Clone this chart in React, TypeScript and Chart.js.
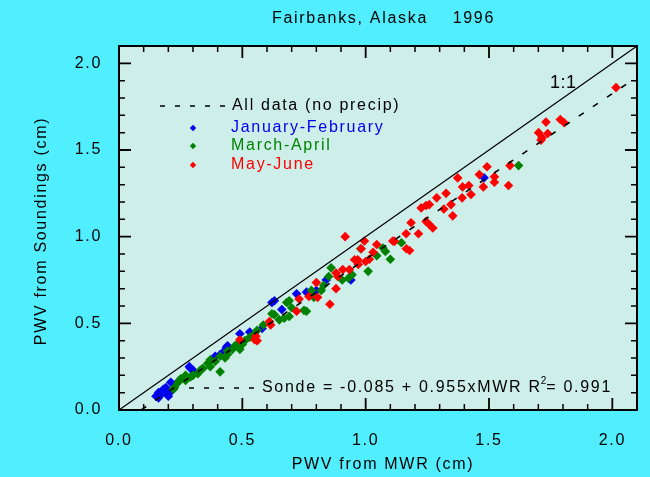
import React, { useEffect, useRef } from 'react';
import { Chart, registerables } from 'chart.js';

Chart.register(...registerables);

// ---- data ----
const janFebX = [0.16, 0.17, 0.185, 0.20, 0.16, 0.18, 0.22, 0.21, 0.19, 0.23, 0.175, 0.29, 0.30, 0.285, 0.39, 0.42, 0.41, 0.435, 0.44, 0.49, 0.53, 0.58, 0.63, 0.62, 0.66, 0.72, 0.76, 0.80, 0.84, 0.94, 1.48, 0.15, 0.205];
const janFebY = [0.10, 0.09, 0.105, 0.08, 0.07, 0.12, 0.12, 0.16, 0.13, 0.15, 0.11, 0.24, 0.23, 0.25, 0.31, 0.33, 0.32, 0.36, 0.37, 0.44, 0.45, 0.47, 0.63, 0.62, 0.58, 0.67, 0.68, 0.69, 0.75, 0.75, 1.34, 0.08, 0.10];

const marchAprilX = [0.22, 0.225, 0.25, 0.27, 0.27, 0.30, 0.32, 0.34, 0.36, 0.37, 0.37, 0.41, 0.41, 0.44, 0.44, 0.46, 0.47, 0.48, 0.49, 0.51, 0.53, 0.63, 0.67, 0.68, 0.69, 0.69, 0.70, 0.65, 0.62, 0.76, 0.75, 0.78, 0.79, 0.82, 0.83, 0.85, 0.86, 0.905, 0.93, 0.945, 0.98, 1.01, 1.045, 1.07, 1.08, 1.10, 1.145, 1.62, 0.56, 0.585, 0.24, 0.29, 0.33, 0.39, 0.43, 0.50, 0.55];
const marchAprilY = [0.12, 0.13, 0.18, 0.17, 0.20, 0.20, 0.21, 0.24, 0.27, 0.25, 0.29, 0.31, 0.22, 0.32, 0.34, 0.35, 0.37, 0.38, 0.35, 0.40, 0.42, 0.55, 0.53, 0.62, 0.54, 0.63, 0.59, 0.52, 0.555, 0.57, 0.575, 0.69, 0.65, 0.69, 0.72, 0.77, 0.82, 0.75, 0.76, 0.78, 0.93, 0.80, 0.89, 0.935, 0.915, 0.87, 0.965, 1.41, 0.46, 0.49, 0.16, 0.19, 0.23, 0.28, 0.30, 0.38, 0.44];

const mayJuneX = [0.49, 0.55, 0.555, 0.56, 0.61, 0.615, 0.72, 0.73, 0.77, 0.80, 0.805, 0.855, 0.88, 0.887, 0.88, 0.907, 0.934, 0.917, 0.955, 0.968, 0.97, 0.982, 0.995, 1.00, 1.015, 1.03, 1.045, 1.11, 1.117, 1.165, 1.178, 1.164, 1.214, 1.184, 1.245, 1.258, 1.272, 1.225, 1.245, 1.258, 1.288, 1.317, 1.326, 1.346, 1.353, 1.373, 1.391, 1.393, 1.418, 1.427, 1.461, 1.477, 1.492, 1.522, 1.522, 1.579, 1.585, 1.701, 1.711, 1.715, 1.731, 1.738, 1.789, 1.805, 2.015];
const mayJuneY = [0.405, 0.405, 0.425, 0.40, 0.51, 0.49, 0.57, 0.64, 0.655, 0.735, 0.65, 0.61, 0.79, 0.77, 0.70, 0.81, 0.81, 1.00, 0.867, 0.867, 0.84, 0.93, 0.975, 0.857, 0.87, 0.91, 0.955, 0.975, 0.973, 0.93, 0.92, 1.017, 1.017, 1.08, 1.088, 1.07, 1.05, 1.166, 1.18, 1.185, 1.224, 1.16, 1.25, 1.185, 1.12, 1.339, 1.224, 1.287, 1.295, 1.243, 1.358, 1.287, 1.403, 1.345, 1.314, 1.295, 1.41, 1.60, 1.557, 1.57, 1.661, 1.595, 1.676, 1.657, 1.86];

const oneToOneX = [0, 2.1];
const oneToOneY = [0, 2.1];
const fitX = [0.09, 2.07];
const fitY = [0.001, 1.892];

const axisMin = 0;
const axisMax = 2.1;
const majorTicks = [0, 0.5, 1.0, 1.5, 2.0];
const tickLabels = ['0.0', '0.5', '1.0', '1.5', '2.0'];
const minorTicks = [0.1, 0.2, 0.3, 0.4, 0.6, 0.7, 0.8, 0.9, 1.1, 1.2, 1.3, 1.4, 1.6, 1.7, 1.8, 1.9];

const titleText = 'Fairbanks, Alaska    1996';
const xTitle = 'PWV from MWR (cm)';
const yTitle = 'PWV from Soundings (cm)';
const legendLine = 'All data (no precip)';
const seriesNames = ['January-February', 'March-April', 'May-June'];
const fitText1 = 'Sonde = -0.085 + 0.955xMWR R';
const fitSup = '2';
const fitText2 = '= 0.991';
const oneToOneLabel = '1:1';

// ---- styles ----
const FONT = '"Liberation Sans", Arial, Helvetica, sans-serif';
const CYAN = '#50EEFF';
const PLOT_BG = '#CDEEE9';
const BLUE = '#0000F0';
const GREEN = '#008200';
const RED = '#FF0000';
const SERIES_COLORS = [BLUE, GREEN, RED];
const SPACING = '1.7px';

const pts = (xs: number[], ys: number[]) => xs.map((x, i) => ({ x, y: ys[i] }));

function drawText(ctx: CanvasRenderingContext2D, s: string, x: number, y: number, size: number, color: string, align: CanvasTextAlign = 'left') {
  ctx.font = `${size}px ${FONT}`;
  ctx.fillStyle = color;
  ctx.textAlign = align;
  ctx.textBaseline = 'middle';
  ctx.fillText(s, x, y);
}

function diamond(ctx: CanvasRenderingContext2D, x: number, y: number, r: number, color: string) {
  ctx.beginPath();
  ctx.moveTo(x, y - r);
  ctx.lineTo(x + r, y);
  ctx.lineTo(x, y + r);
  ctx.lineTo(x - r, y);
  ctx.closePath();
  ctx.fillStyle = color;
  ctx.fill();
}

const decorPlugin = {
  id: 'decor',
  beforeUpdate(chart: any) {
    (chart.ctx as any).letterSpacing = SPACING;
  },
  beforeDraw(chart: any) {
    const { ctx, chartArea: a, width, height } = chart;
    (ctx as any).letterSpacing = SPACING;
    ctx.save();
    ctx.fillStyle = CYAN;
    ctx.fillRect(0, 0, width, height);
    ctx.fillStyle = PLOT_BG;
    ctx.fillRect(a.left, a.top, a.right - a.left, a.bottom - a.top);
    ctx.restore();
  },
  afterDraw(chart: any) {
    const { ctx, chartArea: a } = chart;
    const xs = chart.scales.x;
    const ys = chart.scales.y;
    ctx.save();
    (ctx as any).letterSpacing = SPACING;
    // frame
    ctx.strokeStyle = '#000';
    ctx.lineWidth = 2;
    ctx.setLineDash([]);
    ctx.strokeRect(a.left, a.top, a.right - a.left, a.bottom - a.top);
    // ticks on all sides
    const tick = (v: number, len: number) => {
      const px = xs.getPixelForValue(v);
      const py = ys.getPixelForValue(v);
      ctx.beginPath();
      ctx.moveTo(px, a.bottom); ctx.lineTo(px, a.bottom - len);
      ctx.moveTo(px, a.top); ctx.lineTo(px, a.top + len);
      ctx.moveTo(a.left, py); ctx.lineTo(a.left + len, py);
      ctx.moveTo(a.right, py); ctx.lineTo(a.right - len, py);
      ctx.stroke();
    };
    ctx.lineWidth = 1.8;
    majorTicks.forEach(v => tick(v, 12));
    ctx.lineWidth = 1.5;
    minorTicks.forEach(v => tick(v, 6));

    // title & axis titles
    drawText(ctx, titleText, 272, 19, 16, '#000');
    drawText(ctx, xTitle, 383, 465, 16, '#000', 'center');
    ctx.save();
    ctx.translate(42, 231);
    ctx.rotate(-Math.PI / 2);
    drawText(ctx, yTitle, 0, 0, 16, '#000', 'center');
    ctx.restore();

    // legend
    ctx.strokeStyle = '#000';
    ctx.lineWidth = 1.5;
    ctx.setLineDash([5, 10]);
    ctx.beginPath();
    ctx.moveTo(160, 106); ctx.lineTo(228, 106);
    ctx.stroke();
    ctx.setLineDash([]);
    drawText(ctx, legendLine, 232, 106, 16, '#000');
    const ly = [128, 146, 165];
    seriesNames.forEach((n, i) => {
      diamond(ctx, 193, ly[i], 3.2, SERIES_COLORS[i]);
      drawText(ctx, n, 231, ly[i] - 0.5, 16, SERIES_COLORS[i]);
    });

    // 1:1 label
    (ctx as any).letterSpacing = '0.5px';
    drawText(ctx, oneToOneLabel, 550, 83, 18, '#000');
    (ctx as any).letterSpacing = SPACING;

    // fit annotation
    ctx.strokeStyle = '#000';
    ctx.lineWidth = 1.5;
    ctx.setLineDash([5, 10]);
    ctx.beginPath();
    ctx.moveTo(189, 388); ctx.lineTo(257, 388);
    ctx.stroke();
    ctx.setLineDash([]);
    let x0 = 262;
    drawText(ctx, fitText1, x0, 388, 16, '#000');
    ctx.font = `16px ${FONT}`;
    x0 += ctx.measureText(fitText1).width - 1;
    (ctx as any).letterSpacing = '0px';
    drawText(ctx, fitSup, x0, 381, 10, '#000');
    ctx.font = `10px ${FONT}`;
    x0 += ctx.measureText(fitSup).width;
    (ctx as any).letterSpacing = SPACING;
    drawText(ctx, fitText2, x0, 388, 16, '#000');
    ctx.restore();
  },
};

export default function App() {
  const ref = useRef<HTMLCanvasElement | null>(null);
  useEffect(() => {
    document.body.style.margin = '0';
    document.body.style.background = CYAN;
    const canvas = ref.current!;
    const pointDs = (label: string, xs: number[], ys: number[], color: string, order: number) => ({
      type: 'scatter' as const,
      label,
      data: pts(xs, ys),
      backgroundColor: color,
      borderColor: color,
      borderWidth: 0,
      pointStyle: 'rectRot',
      pointRadius: 4.8,
      showLine: false,
      order,
    });
    const chart = new Chart(canvas, {
      type: 'scatter',
      data: {
        datasets: [
          {
            type: 'scatter',
            label: '1:1',
            data: pts(oneToOneX, oneToOneY),
            showLine: true,
            borderColor: '#000',
            borderWidth: 1.2,
            pointRadius: 0,
            order: 1,
          } as any,
          {
            type: 'scatter',
            label: 'fit',
            data: pts(fitX, fitY),
            showLine: true,
            borderColor: '#000',
            borderWidth: 1.6,
            borderDash: [6, 11],
            pointRadius: 0,
            order: 0,
          } as any,
          pointDs(seriesNames[0], janFebX, janFebY, BLUE, 5) as any,
          pointDs(seriesNames[1], marchAprilX, marchAprilY, GREEN, 4) as any,
          pointDs(seriesNames[2], mayJuneX, mayJuneY, RED, 3) as any,
        ],
      },
      options: {
        animation: false,
        responsive: false,
        devicePixelRatio: 1,
        events: [],
        layout: { padding: { top: 46, right: 13, left: 0, bottom: 0 } },
        plugins: { legend: { display: false }, tooltip: { enabled: false }, title: { display: false } },
        scales: {
          x: {
            type: 'linear',
            min: axisMin,
            max: axisMax,
            grid: { display: false, drawTicks: false },
            border: { display: false },
            afterBuildTicks: (s: any) => { s.ticks = majorTicks.map(v => ({ value: v })); },
            afterFit: (s: any) => { s.height = 67; },
            ticks: {
              padding: 21,
              color: '#000',
              font: { family: FONT, size: 16 },
              maxRotation: 0,
              callback: (v: any) => tickLabels[majorTicks.indexOf(Number(v))] ?? '',
            },
          },
          y: {
            type: 'linear',
            min: axisMin,
            max: axisMax,
            grid: { display: false, drawTicks: false },
            border: { display: false },
            afterBuildTicks: (s: any) => { s.ticks = majorTicks.map(v => ({ value: v })); },
            afterFit: (s: any) => { s.width = 119; },
            ticks: {
              padding: 17,
              color: '#000',
              font: { family: FONT, size: 16 },
              callback: (v: any) => tickLabels[majorTicks.indexOf(Number(v))] ?? '',
            },
          },
        },
      },
      plugins: [decorPlugin],
    } as any);
    return () => chart.destroy();
  }, []);
  return (
    <div style={{ position: 'absolute', left: 0, top: 0, width: 650, height: 477, background: CYAN }}>
      <canvas ref={ref} width={650} height={477} style={{ display: 'block', width: 650, height: 477 }} />
    </div>
  );
}
